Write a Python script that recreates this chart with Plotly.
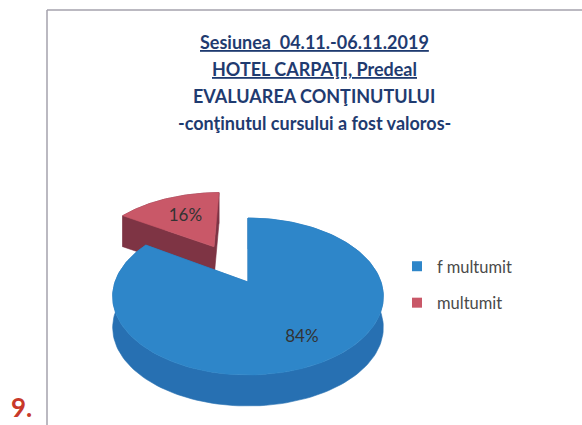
import math
import plotly.graph_objects as go

# ---- data ----
categories = ["f multumit", "multumit"]
values = [84, 16]
title_lines = [
    "<u>Sesiunea  04.11.-06.11.2019</u>",
    "<u>HOTEL CARPAŢI, Predeal</u>",
    "EVALUAREA CONŢINUTULUI",
    "-conţinutul cursului a fost valoros-",
]

# ---- styling ----
top_colors = ["#2E86C9", "#C95868"]
side_colors = ["#2770B2", "#7E3444"]
explode = [0.0, 0.58]          # radial pull of each slice (in radius units)
label_radius = [0.74, 0.58]    # where the percentage sits inside each slice
FONT = "Lato"
W, H = 582, 425

# ---- 3D pie projection (axes are laid out 1 unit = 1 px) ----
CX, CY = 248.0, 282.0          # projected pie centre
RX, RY = 133.0, 75.8           # horizontal / depth radii
PERSP = 0.185                  # perspective strength
THICK = 31.0                   # extrusion height in px


def proj(X, Z, drop=0.0):
    w = 1.0 + PERSP * Z
    return CX + RX * X / w, CY - RY * Z / w + drop


def rim(theta, off, drop=0.0):
    return proj(off[0] + math.sin(theta), off[1] + math.cos(theta), drop)


total = float(sum(values))
angles = [0.0]
for v in values:
    angles.append(angles[-1] + 2 * math.pi * v / total)

fig = go.Figure()
N = 160


def poly(pts, fill, name):
    xs = [p[0] for p in pts] + [pts[0][0]]
    ys = [p[1] for p in pts] + [pts[0][1]]
    fig.add_trace(go.Scatter(
        x=xs, y=ys, mode="lines", fill="toself", fillcolor=fill,
        line=dict(color=fill, width=0.6), hoverinfo="skip",
        showlegend=False, name=name,
    ))


slices = []
for i, v in enumerate(values):
    a0, a1 = angles[i], angles[i + 1]
    mid = (a0 + a1) / 2
    off = (explode[i] * math.sin(mid), explode[i] * math.cos(mid))
    slices.append((i, a0, a1, mid, off))

# draw the exploded (far) slice first, then the main slice over it
for i, a0, a1, mid, off in sorted(slices, key=lambda s: -explode[s[0]]):
    ts = [a0 + (a1 - a0) * k / N for k in range(N + 1)]
    top_arc = [rim(t, off) for t in ts]
    bot_arc = [rim(t, off, THICK) for t in ts]
    apex_t = proj(off[0], off[1])
    apex_b = proj(off[0], off[1], THICK)
    # outer wall
    poly(top_arc + bot_arc[::-1], side_colors[i], categories[i])
    # radial cut faces
    for t in (a0, a1):
        poly([apex_t, rim(t, off), rim(t, off, THICK), apex_b],
             side_colors[i], categories[i])
    # top face
    poly([apex_t] + top_arc, top_colors[i], categories[i])

# percentage labels
lx, ly, lt = [], [], []
for i, a0, a1, mid, off in slices:
    r = label_radius[i]
    x, y = proj(off[0] + r * math.sin(mid), off[1] + r * math.cos(mid))
    lx.append(x)
    ly.append(y)
    lt.append(f"{values[i]}%")
fig.add_trace(go.Scatter(
    x=lx, y=ly, text=lt, mode="text", showlegend=False, hoverinfo="skip",
    textfont=dict(family=FONT, size=17, color="#333333"),
))

# legend entries
for i, c in enumerate(categories):
    fig.add_trace(go.Scatter(
        x=[None], y=[None], mode="markers", name=c, legendgroup=c,
        marker=dict(symbol="square", size=10, color=top_colors[i]),
    ))

# chart frame (top and left edges)
fig.add_shape(type="line", x0=47, y0=10, x1=W + 5, y1=10,
              line=dict(color="#A4A2AC", width=1.5))
fig.add_shape(type="line", x0=47, y0=10, x1=47, y1=H + 5,
              line=dict(color="#A4A2AC", width=1.5))

# title block
for txt, yc in zip(title_lines, [42, 69, 96, 123]):
    fig.add_annotation(x=314, y=yc, xref="x", yref="y", text=f"<b>{txt}</b>",
                       showarrow=False, xanchor="center", yanchor="middle",
                       font=dict(family=FONT, size=18, color="#1F3B70"))

# page number
fig.add_annotation(x=9 / W, y=0, xref="paper", yref="paper", text="<b>9.</b>",
                   showarrow=False, xanchor="left", yanchor="bottom",
                   font=dict(family=FONT, size=26, color="#C8392A"))

fig.update_layout(
    width=W, height=H, autosize=False,
    margin=dict(l=0, r=0, t=0, b=0),
    paper_bgcolor="white", plot_bgcolor="white",
    xaxis=dict(range=[0, W], visible=False, fixedrange=True),
    yaxis=dict(range=[H, 0], visible=False, fixedrange=True),
    legend=dict(x=397 / W, y=1 - 249 / H, xanchor="left", yanchor="top",
                tracegroupgap=12, bgcolor="rgba(0,0,0,0)",
                font=dict(family=FONT, size=16.5, color="#4A4A4A")),
    showlegend=True,
)

fig.write_html("out.html", config={"displayModeBar": False})
